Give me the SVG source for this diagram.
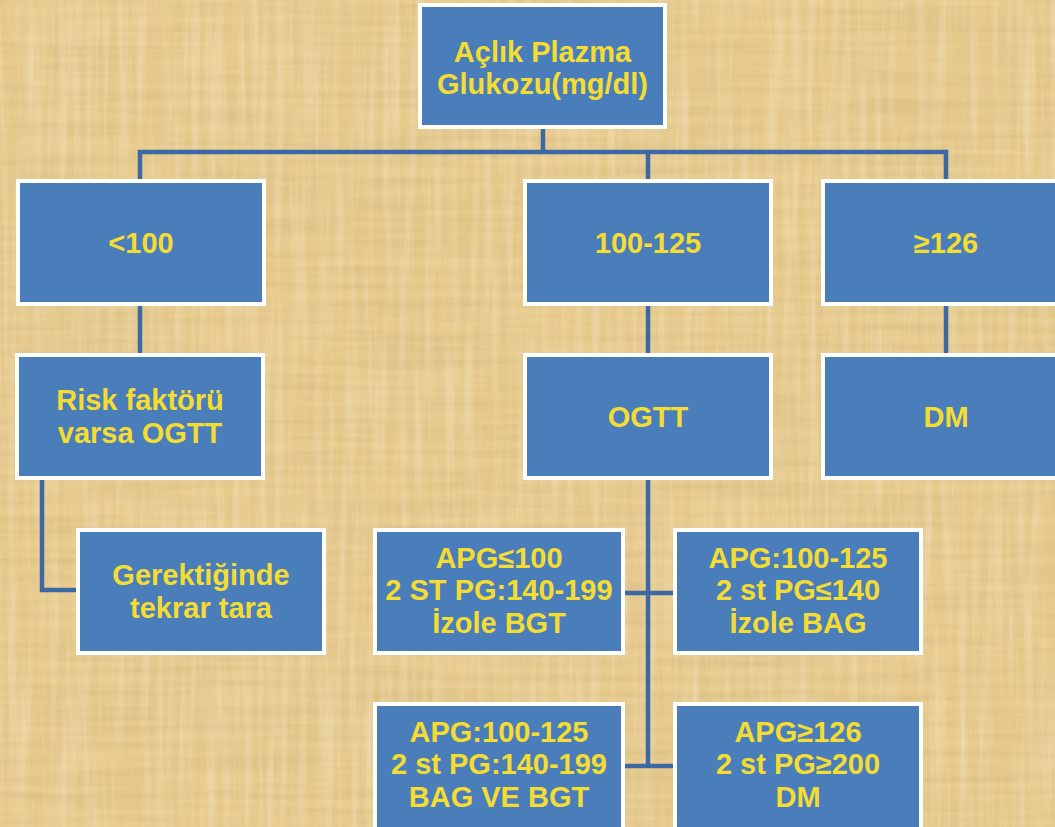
<svg xmlns="http://www.w3.org/2000/svg" width="1055" height="827" viewBox="0 0 1055 827">
  <defs>
    <filter id="fibH" x="0" y="0" width="100%" height="100%">
      <feTurbulence type="fractalNoise" baseFrequency="0.006 0.12" numOctaves="3" seed="3" result="n"/>
      <feColorMatrix in="n" type="matrix" values="0 0 0 0 0.55  0 0 0 0 0.40  0 0 0 0 0.15  0 0 0 -1.6 1.05"/>
    </filter>
    <filter id="fibV" x="0" y="0" width="100%" height="100%">
      <feTurbulence type="fractalNoise" baseFrequency="0.12 0.006" numOctaves="3" seed="7" result="n"/>
      <feColorMatrix in="n" type="matrix" values="0 0 0 0 1  0 0 0 0 0.96  0 0 0 0 0.82  0 0 0 -1.6 1.0"/>
    </filter>
    <filter id="blot" x="0" y="0" width="100%" height="100%">
      <feTurbulence type="fractalNoise" baseFrequency="0.008" numOctaves="2" seed="11" result="n"/>
      <feColorMatrix in="n" type="matrix" values="0 0 0 0 0.75  0 0 0 0 0.6  0 0 0 0 0.3  0 0 0 -1.4 0.85"/>
    </filter>
  </defs>
  <style>
    .box { fill: #4A7EBB; stroke: #FFFFFF; stroke-width: 4; }
    .t { font-family: "Liberation Sans", Arial, sans-serif; font-weight: bold; font-size: 29px; fill: #F5DC32; text-anchor: middle; }
    .conn { fill: none; stroke: #3C68A4; stroke-width: 4.5; stroke-linejoin: miter; }
  </style>

  <g id="background">
    <rect x="0" y="0" width="1055" height="827" fill="#E8CB8E"/>
    <rect x="0" y="0" width="1055" height="827" filter="url(#blot)" opacity="0.35"/>
    <rect x="0" y="0" width="1055" height="827" filter="url(#fibH)" opacity="0.35"/>
    <rect x="0" y="0" width="1055" height="827" filter="url(#fibV)" opacity="0.35"/>
  </g>

  <g id="connectors">
    <path class="conn" d="M543,127 V152"/>
    <path class="conn" d="M140,180 V152 H946 V180"/>
    <path class="conn" d="M648,152 V180"/>
    <path class="conn" d="M140,305 V355"/>
    <path class="conn" d="M648,305 V355"/>
    <path class="conn" d="M946,305 V355"/>
    <path class="conn" d="M42,479 V590 H77"/>
    <path class="conn" d="M648,479 V766"/>
    <path class="conn" d="M624,593 H674"/>
    <path class="conn" d="M624,766 H674"/>
  </g>

  <g id="node-aclik">
    <rect class="box" x="420" y="5" width="245" height="122"/>
    <text class="t" x="542.5" y="62">Açlık Plazma</text>
    <text class="t" x="542.5" y="94">Glukozu(mg/dl)</text>
  </g>

  <g id="node-lt100">
    <rect class="box" x="18" y="181" width="246" height="123"/>
    <text class="t" x="141" y="253">&lt;100</text>
  </g>

  <g id="node-100-125">
    <rect class="box" x="525" y="181" width="246" height="123"/>
    <text class="t" x="648" y="253">100-125</text>
  </g>

  <g id="node-ge126">
    <rect class="box" x="823" y="181" width="246" height="123"/>
    <text class="t" x="946" y="253">≥126</text>
  </g>

  <g id="node-risk">
    <rect class="box" x="17" y="355" width="246" height="123"/>
    <text class="t" x="140" y="410">Risk faktörü</text>
    <text class="t" x="140" y="443">varsa OGTT</text>
  </g>

  <g id="node-ogtt">
    <rect class="box" x="525" y="355" width="246" height="123"/>
    <text class="t" x="648" y="427">OGTT</text>
  </g>

  <g id="node-dm">
    <rect class="box" x="823" y="355" width="246" height="123"/>
    <text class="t" x="946" y="427">DM</text>
  </g>

  <g id="node-gerektiginde">
    <rect class="box" x="78" y="530" width="246" height="123"/>
    <text class="t" x="201" y="585">Gerektiğinde</text>
    <text class="t" x="201" y="618">tekrar tara</text>
  </g>

  <g id="node-izole-bgt">
    <rect class="box" x="375" y="530" width="248" height="123"/>
    <text class="t" x="499" y="568">APG≤100</text>
    <text class="t" x="499" y="600">2 ST PG:140-199</text>
    <text class="t" x="499" y="633">İzole BGT</text>
  </g>

  <g id="node-izole-bag">
    <rect class="box" x="675" y="530" width="246" height="123"/>
    <text class="t" x="798" y="568">APG:100-125</text>
    <text class="t" x="798" y="600">2 st PG≤140</text>
    <text class="t" x="798" y="633">İzole BAG</text>
  </g>

  <g id="node-bag-bgt">
    <rect class="box" x="375" y="704" width="248" height="125"/>
    <text class="t" x="499" y="742">APG:100-125</text>
    <text class="t" x="499" y="774">2 st PG:140-199</text>
    <text class="t" x="499" y="807">BAG VE BGT</text>
  </g>

  <g id="node-dm2">
    <rect class="box" x="675" y="704" width="246" height="125"/>
    <text class="t" x="798" y="742">APG≥126</text>
    <text class="t" x="798" y="774">2 st PG≥200</text>
    <text class="t" x="798" y="807">DM</text>
  </g>
</svg>
